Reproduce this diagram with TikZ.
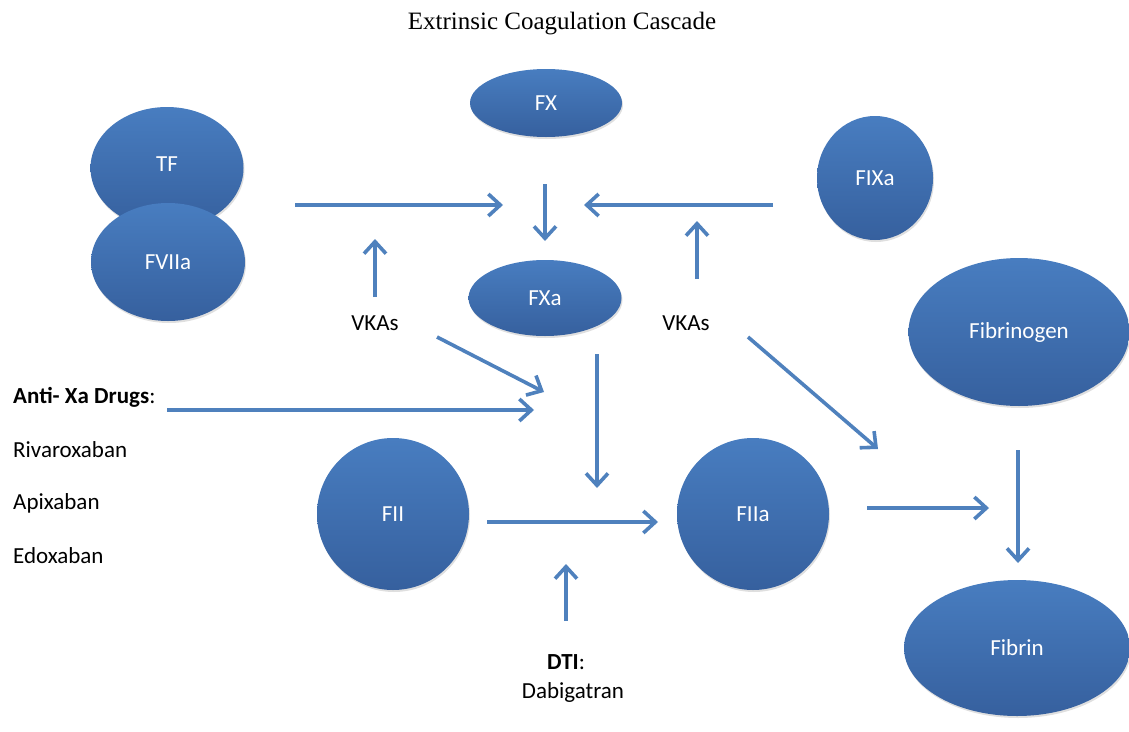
\documentclass[tikz,border=0pt]{standalone}
\usepackage{fontspec}
\setmainfont{Carlito}
\newfontfamily\titlefont{Liberation Serif}
\usetikzlibrary{arrows.meta,shadows,shapes.geometric}
\definecolor{arrowblue}{RGB}{79,129,189}
\definecolor{topblue}{RGB}{72,125,192}
\definecolor{botblue}{RGB}{54,96,158}
\tikzset{
  blob/.style={ellipse,draw=none,top color=topblue,bottom color=botblue,text=white,
    font=\fontsize{23}{27}\selectfont,inner sep=0pt,
    drop shadow={opacity=0.25,shadow xshift=1pt,shadow yshift=-2pt}},
  flow/.style={draw=arrowblue,line width=3.6pt,
    -{Straight Barb[length=12pt,width=22pt,line width=3.6pt]}},
  lab/.style={font=\fontsize{23}{27}\selectfont,text=black,inner sep=0pt},
}
\begin{document}
\begin{tikzpicture}[x=1pt,y=-1pt]
\useasboundingbox (0,0) rectangle (1129,731);
\node[font=\titlefont\fontsize{25}{30}\selectfont] (title) at (562,24) {Extrinsic Coagulation Cascade};
% ellipses
\node[blob,minimum width=153pt,minimum height=122pt] (tf) at (167,168) {};
\node[font=\fontsize{23}{27}\selectfont,text=white] (tft) at (167,164) {TF};
\node[blob,minimum width=154pt,minimum height=118pt] (f7) at (168,262) {FVIIa};
\node[blob,minimum width=152pt,minimum height=68pt] (fx) at (546,103) {FX};
\node[blob,minimum width=116pt,minimum height=124pt] (f9) at (875,178) {FIXa};
\node[blob,minimum width=153pt,minimum height=76pt] (fxa) at (545,298) {FXa};
\node[blob,minimum width=221pt,minimum height=148pt] (fbg) at (1019,332) {Fibrinogen};
\node[blob,minimum width=152pt,minimum height=152pt] (f2) at (393,514) {FII};
\node[blob,minimum width=152pt,minimum height=152pt] (f2a) at (753,514) {FIIa};
\node[blob,minimum width=226pt,minimum height=136pt] (fib) at (1017,648) {Fibrin};
% labels
\node[lab] (vk1) at (375,323) {VKAs};
\node[lab] (vk2) at (686,323) {VKAs};
\node[lab,anchor=west] (axa) at (13,397) {\textbf{Anti- Xa Drugs}:};
\node[lab,anchor=west] (riv) at (13,450) {Rivaroxaban};
\node[lab,anchor=west] (api) at (13,503) {Apixaban};
\node[lab,anchor=west] (edo) at (13,556) {Edoxaban};
\node[lab] (dti) at (566,662) {\textbf{DTI}:};
\node[lab] (dab) at (573,692) {Dabigatran};
% arrow end points
\coordinate (a1s) at (295,205); \coordinate (a1e) at (503,205);
\coordinate (a2s) at (545,184); \coordinate (a2e) at (545,241);
\coordinate (a3s) at (773,205); \coordinate (a3e) at (584,205);
\coordinate (a4s) at (375,297); \coordinate (a4e) at (375,239);
\coordinate (a5s) at (697,279); \coordinate (a5e) at (697,221);
\coordinate (a6s) at (437,337); \coordinate (a6e) at (544,392);
\coordinate (a7s) at (167,410); \coordinate (a7e) at (534,410);
\coordinate (a8s) at (597,354); \coordinate (a8e) at (597,488);
\coordinate (a9s) at (487,522); \coordinate (a9e) at (658,522);
\coordinate (a10s) at (566,621); \coordinate (a10e) at (566,564);
\coordinate (a11s) at (748,337); \coordinate (a11e) at (878,449);
\coordinate (a12s) at (867,508); \coordinate (a12e) at (989,508);
\coordinate (a13s) at (1018,450); \coordinate (a13e) at (1018,563);
\foreach \i in {1,...,13} \draw[flow] (a\i s) -- (a\i e);
\end{tikzpicture}
\end{document}
